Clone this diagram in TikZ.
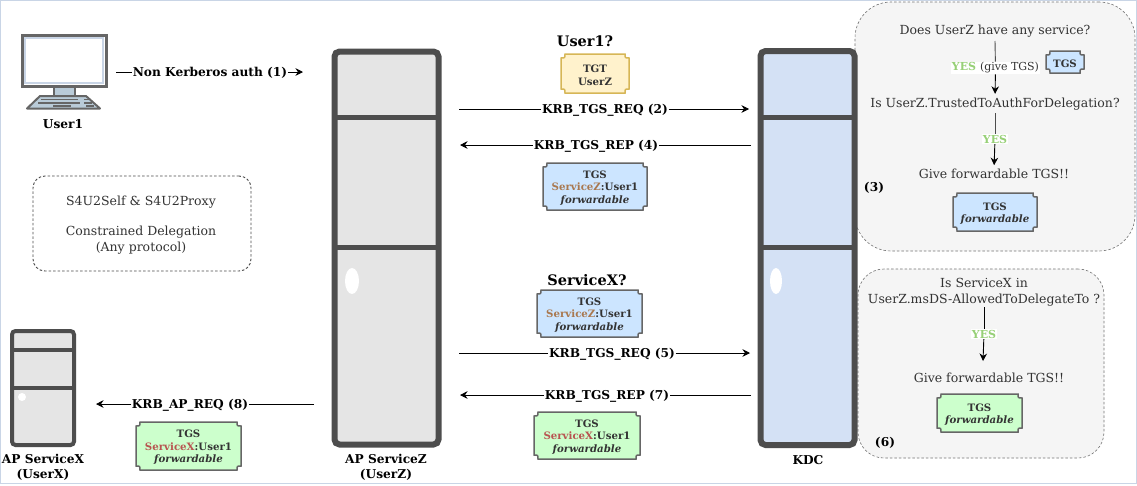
\documentclass[tikz,border=0pt]{standalone}
\usepackage{fontspec}
\setmainfont{DejaVu Serif}
\usetikzlibrary{arrows.meta}
\definecolor{dk}{HTML}{4D4D4D}
\definecolor{tk}{HTML}{333333}
\definecolor{svz}{HTML}{A9784F}
\definecolor{svx}{HTML}{B85450}
\definecolor{yes}{HTML}{97D077}
\definecolor{blueF}{HTML}{CCE5FF}
\definecolor{greenF}{HTML}{CCFFCC}
\definecolor{yelF}{HTML}{FFF2CC}
\definecolor{yelS}{HTML}{D6B656}
\definecolor{kdcF}{HTML}{D4E1F5}
\definecolor{scr}{HTML}{B9CBD8}
\definecolor{edge}{HTML}{C9D5E6}
\tikzset{
  msg/.style={inner sep=0.4pt,fill=white,align=center,text height=11pt,text depth=3pt,font=\fontsize{12.2}{14}\selectfont\bfseries,text=black},
  captxt/.style={inner sep=0pt,align=center,yshift=-1.2pt,font=\fontsize{12.2}{15}\selectfont\bfseries,text=black},
  ask/.style={inner sep=0pt,font=\fontsize{14.5}{16}\selectfont\bfseries,text=black},
  note/.style={inner sep=0pt,align=center,yshift=-1.2pt,font=\fontsize{12.5}{15.5}\selectfont,text=tk},
  tick/.style={inner sep=0pt,align=center,yshift=-1.5pt,font=\fontsize{10.2}{12.6}\selectfont\bfseries,text=tk},
  yesl/.style={inner sep=0.7pt,fill=white,font=\fontsize{11}{13}\selectfont\bfseries,text=yes},
  link/.style={line width=0.9pt,black},
  arr/.style={line width=0.9pt,black,-{Stealth[length=7.5pt,width=7.5pt]}},
  srv/.style={draw=dk,rounded corners=5pt,inner sep=0pt},
  dash box/.style={draw=black!70,dashed,dash pattern=on 2.5pt off 2pt,line width=0.9pt},
}
% name cx cy w h fill stroke text
\newcommand{\ticket}[8]{%
  \begin{scope}[shift={(#2,#3)}]
    \pgfmathsetmacro{\WW}{#4/2}\pgfmathsetmacro{\HH}{#5/2}
    \draw[fill=#6,draw=#7,line width=1.5pt]
      (-\WW+4,-\HH) -- (\WW-4,-\HH) .. controls (\WW-4,-\HH+4) .. (\WW,-\HH+4)
      -- (\WW,\HH-4) .. controls (\WW-4,\HH-4) .. (\WW-4,\HH)
      -- (-\WW+4,\HH) .. controls (-\WW+4,\HH-4) .. (-\WW,\HH-4)
      -- (-\WW,-\HH+4) .. controls (-\WW+4,-\HH+4) .. (-\WW+4,-\HH) -- cycle;
    \node[tick] (#1) at (0,0) {#8};
  \end{scope}}
\begin{document}
\begin{tikzpicture}[x=1pt,y=-1pt]
\useasboundingbox (0,0) rectangle (1137,485);
\fill[white] (0,0) rectangle (1137,485);
\draw[edge,line width=1pt] (0.5,0.5) rectangle (1136.5,483.5);

% clouds
\node[dash box,draw=black!55,line width=0.6pt,fill=black!4,rounded corners=36pt,minimum width=280pt,minimum height=249pt,inner sep=0pt] (cloudA) at (995,126.5) {};
\node[dash box,draw=black!55,line width=0.6pt,fill=black!4,rounded corners=26pt,minimum width=246pt,minimum height=189pt,inner sep=0pt] (cloudB) at (981,363.5) {};

% servers
\node[srv,line width=6pt,fill=black!10,minimum width=104pt,minimum height=393pt] (apz) at (386.5,248) {};
\draw[dk,line width=5pt] (335,117) -- (439,117) (335,247) -- (439,247);
\fill[white] (352,281) ellipse (7pt and 13pt);
\node[srv,line width=6pt,fill=kdcF,minimum width=94pt,minimum height=394pt] (kdc) at (807.5,248) {};
\draw[dk,line width=5pt] (761,117) -- (855,117) (761,247) -- (855,247);
\fill[white] (776,281) ellipse (6pt and 13pt);
\node[srv,line width=4pt,rounded corners=3.5pt,fill=black!10,minimum width=62pt,minimum height=114pt] (apx) at (43,388) {};
\draw[dk,line width=3.5pt] (12,350) -- (74,350) (12,388) -- (74,388);
\fill[white] (22,397) circle (4pt);

% computer
\node[draw=black!60,line width=3pt,fill=white,minimum width=84pt,minimum height=51pt,inner sep=0pt] (pc) at (64,60.5) {};
\draw[edge,line width=2pt] (25,38) rectangle (103,83);
\draw[black!60,fill=scr,line width=1.5pt] (54,87) rectangle (75,96);
\draw[black!60,fill=scr,line width=2pt,line join=round] (27,108.5) -- (100,108.5) -- (86,96) -- (40,96) -- cycle;
\draw[black!60,line width=1.2pt] (41,99.5) -- (78,99.5) (84,99.5) -- (90,99.5) (38,103) -- (80,103) (84,103) -- (92,103) (53,106) -- (71,106) (86,106) -- (94,106);
\node[captxt] (user1) at (63,123) {User1};

% left note
\node[dash box,rounded corners=12pt,minimum width=218pt,minimum height=95pt,inner sep=0pt] (noteL) at (142,223.5) {};
\node[note] (noteA) at (141,201) {S4U2Self \& S4U2Proxy};
\node[note] (noteB) at (141,239) {Constrained Delegation\\(Any protocol)};

% captions
\node[captxt] (capZ) at (386,466.5) {AP ServiceZ\\(UserZ)};
\node[captxt] (capX) at (43,466.5) {AP ServiceX\\(UserX)};
\node[captxt] (capK) at (808,459) {KDC};
\node[ask] (q1) at (585,41) {User1?};
\node[ask] (q2) at (587,280) {ServiceX?};

% messages
\coordinate (a1) at (116,72); \coordinate (b1) at (303,72);
\node[msg] (m1) at (210,72) {Non Kerberos auth (1)};
\draw[link] (a1) -- (m1); \draw[arr] (m1) -- (b1);
\coordinate (a2) at (459,109); \coordinate (b2) at (749,109);
\node[msg] (m2) at (605,109) {KRB\_TGS\_REQ (2)};
\draw[link] (a2) -- (m2); \draw[arr] (m2) -- (b2);
\coordinate (a4) at (751,145); \coordinate (b4) at (460,145);
\node[msg] (m4) at (596,145) {KRB\_TGS\_REP (4)};
\draw[link] (a4) -- (m4); \draw[arr] (m4) -- (b4);
\coordinate (a5) at (459,353); \coordinate (b5) at (750,353);
\node[msg] (m5) at (612,353) {KRB\_TGS\_REQ (5)};
\draw[link] (a5) -- (m5); \draw[arr] (m5) -- (b5);
\coordinate (a7) at (751,395); \coordinate (b7) at (460,395);
\node[msg] (m7) at (607,395) {KRB\_TGS\_REP (7)};
\draw[link] (a7) -- (m7); \draw[arr] (m7) -- (b7);
\coordinate (a8) at (314,404); \coordinate (b8) at (96,404);
\node[msg] (m8) at (190,404) {KRB\_AP\_REQ (8)};
\draw[link] (a8) -- (m8); \draw[arr] (m8) -- (b8);

% tickets
\ticket{t1}{595}{73.5}{68}{39}{yelF}{yelS}{TGT\\UserZ}
\ticket{t2}{595}{186.5}{104}{47}{blueF}{black!60}{TGS\\\textcolor{svz}{ServiceZ}:User1\\\textit{forwardable}}
\ticket{t3}{589.5}{313.5}{105}{47}{blueF}{black!60}{TGS\\\textcolor{svz}{ServiceZ}:User1\\\textit{forwardable}}
\ticket{t4}{587}{435.5}{106}{47}{greenF}{black!60}{TGS\\\textcolor{svx}{ServiceX}:User1\\\textit{forwardable}}
\ticket{t5}{188.5}{446}{105}{48}{greenF}{black!60}{TGS\\\textcolor{svx}{ServiceX}:User1\\\textit{forwardable}}
\ticket{t6}{1065}{62}{38}{22}{blueF}{black!60}{TGS}
\ticket{t7}{995}{212}{84}{38}{blueF}{black!60}{TGS\\\textit{forwardable}}
\ticket{t8}{979.5}{413}{85}{38}{greenF}{black!60}{TGS\\\textit{forwardable}}

% cloud A flow
\node[note] (f1) at (995,30) {Does UserZ have any service?};
\node[note] (f2) at (995,103) {Is UserZ.TrustedToAuthForDelegation?};
\node[note] (f3) at (994,173) {Give forwardable TGS!!};
\node[yesl,text=tk] (y1) at (995.5,68) {\textcolor{yes}{YES}\ {\mdseries (give TGS)}};
\node[yesl] (y2) at (995,139) {YES};
\coordinate (f1a) at (995,41);
\coordinate (f2a) at (995,113);
\draw[link,black!70] (f1a) -- (y1);
\draw[arr,shorten >=4pt] (y1) -- (f2.north);
\draw[link,black!70] (f2a) -- (y2);
\draw[arr,shorten >=4pt] (y2) -- (f3.north);
\node[captxt] (n3) at (874,187) {(3)};

% cloud B flow
\node[note] (g1) at (984,291) {Is ServiceX in\\UserZ.msDS-AllowedToDelegateTo ?};
\node[note] (g2) at (989,377) {Give forwardable TGS!!};
\node[yesl] (y3) at (984,334) {YES};
\coordinate (g3) at (983,361);
\coordinate (g1a) at (984,307);
\draw[link] (g1a) -- (y3);
\draw[arr] (y3) -- (g3);
\node[captxt] (n6) at (885,442) {(6)};
\end{tikzpicture}
\end{document}
